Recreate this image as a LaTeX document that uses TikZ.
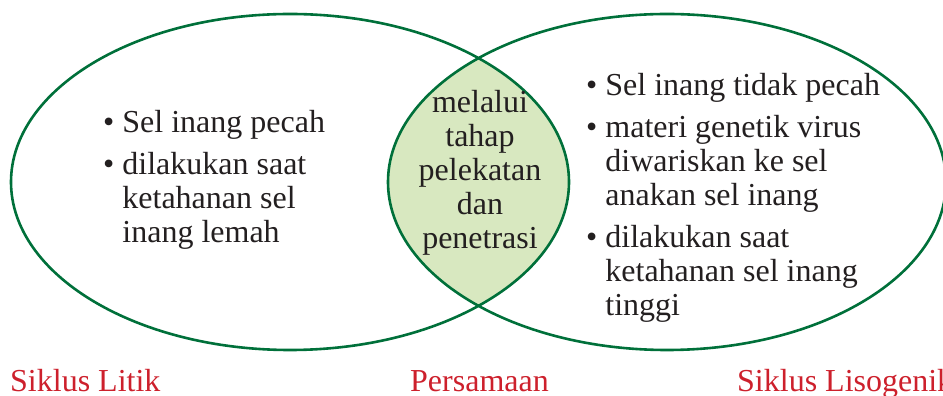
\documentclass[tikz,border=0pt]{standalone}
\usepackage{fontspec}
\setmainfont{Liberation Serif}
\usepackage{tikz}
\definecolor{vennline}{RGB}{0,112,58}
\definecolor{vennfill}{RGB}{216,232,192}
\definecolor{titlered}{RGB}{205,32,44}
\definecolor{bodytext}{RGB}{35,31,32}
\tikzstyle{setline} = [draw=vennline, line width=2.6pt]
\tikzstyle{listtext} = [inner sep=0pt, anchor=base west, text=bodytext, font=\fontsize{32}{34}\selectfont]
\tikzstyle{midtext} = [inner sep=0pt, anchor=base, text=bodytext, font=\fontsize{32}{34}\selectfont]
\tikzstyle{cycletitle} = [inner sep=0pt, anchor=base west, text=titlered, font=\fontsize{32}{34}\selectfont]

\begin{document}
\begin{tikzpicture}[x=1pt, y=1pt]
\useasboundingbox (0,0) rectangle (943,396);

% lens where the two cycles overlap
\begin{scope}
\clip (290,214) ellipse [x radius=279pt, y radius=168pt];
\fill[vennfill] (667,214) ellipse [x radius=279pt, y radius=168pt];
\end{scope}
\draw[setline] (290,214) ellipse [x radius=279pt, y radius=168pt];
\draw[setline] (667,214) ellipse [x radius=279pt, y radius=168pt];

\node (litik) [listtext] at (103,263) {\begin{tabular}[t]{@{}l@{\hspace{8pt}}l@{}}
\textbullet & Sel inang pecah\\[8pt]
\textbullet & dilakukan saat\\
 & ketahanan sel\\
 & inang lemah
\end{tabular}};

\node (sama) [midtext] at (480,283) {\begin{tabular}[t]{@{}c@{}}
melalui\\ tahap\\ pelekatan\\ dan\\ penetrasi
\end{tabular}};

\node (lisogenik) [listtext] at (586,300) {\begin{tabular}[t]{@{}l@{\hspace{8pt}}l@{}}
\textbullet & Sel inang tidak pecah\\[8pt]
\textbullet & materi genetik virus\\
 & diwariskan ke sel\\
 & anakan sel inang\\[8pt]
\textbullet & dilakukan saat\\
 & ketahanan sel inang\\
 & tinggi
\end{tabular}};

\node (t1) [cycletitle] at (10,4) {Siklus Litik};
\node (t2) [cycletitle] at (410,4) {Persamaan};
\node (t3) [cycletitle] at (737,4) {Siklus Lisogenik};

\end{tikzpicture}
\end{document}
